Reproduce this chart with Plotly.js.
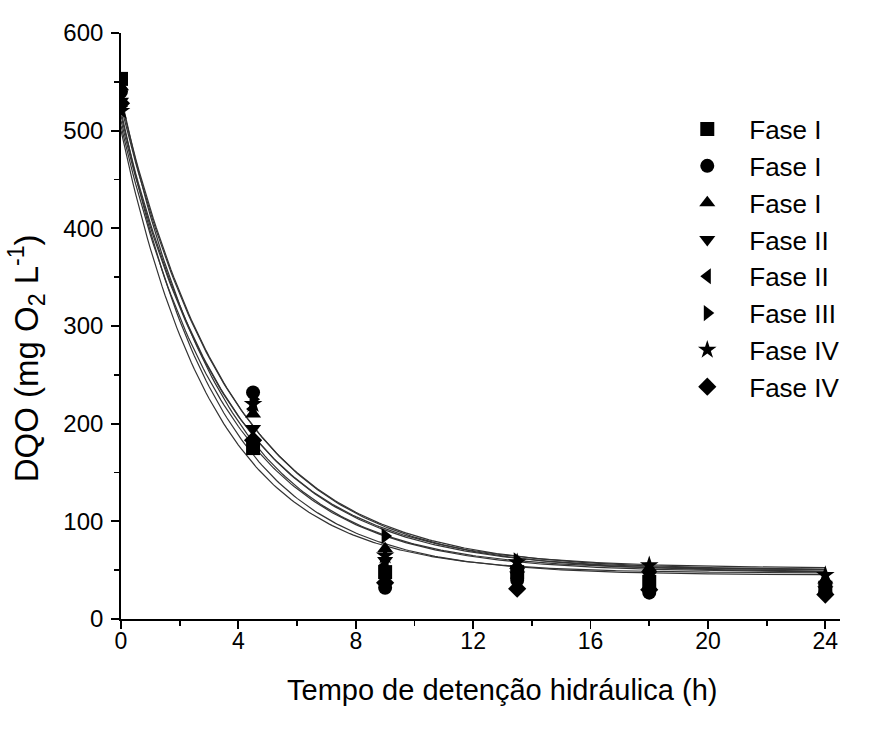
<!DOCTYPE html>
<html>
<head>
<meta charset="utf-8">
<script src="https://cdn.plot.ly/plotly-3.0.1.min.js"></script>
<style>html,body{margin:0;padding:0;background:#fff;}</style>
</head>
<body>
<div id="chart" style="width:870px;height:732px;"></div>
<script>
// Sampling times (h)
const times = [0, 4.5, 9, 13.5, 18, 24];

// Series names and symbols
const seriesNames = ["Fase I", "Fase I", "Fase I", "Fase II", "Fase II", "Fase III", "Fase IV", "Fase IV"];
const seriesSymbols = ["square", "circle", "triangle-up", "triangle-down", "triangle-left", "triangle-right", "star", "diamond"];

// Observed DQO values (mg O2 L-1)
const faseI_a   = [553, 175, 48, 48, 38, 32];
const faseI_b   = [540, 232, 32, 40, 27, 27];
const faseI_c   = [545, 210, 72, 55, 52, 40];
const faseII_a  = [530, 195, 60, 45, 45, 30];
const faseII_b  = [535, 215, 55, 52, 48, 35];
const faseIII   = [525, 225, 85, 60, 50, 38];
const faseIV_a  = [520, 220, 65, 58, 55, 45];
const faseIV_b  = [528, 183, 37, 31, 30, 25];
const observed = [faseI_a, faseI_b, faseI_c, faseII_a, faseII_b, faseIII, faseIV_a, faseIV_b];

// First-order decay fit parameters: C = Cinf + (C0 - Cinf) * exp(-k t)
const fitC0   = [520, 530, 515, 505, 525, 510, 535, 500];
const fitCinf = [45, 48, 50, 48, 50, 52, 50, 47];
const fitK    = [0.30, 0.26, 0.27, 0.28, 0.26, 0.27, 0.29, 0.31];

// Axis ticks and titles
const xTicks = [0, 4, 8, 12, 16, 20, 24];
const yTicks = [0, 100, 200, 300, 400, 500, 600];
const xTitle = "Tempo de detenção hidráulica (h)";
const yTitle = "DQO (mg O<sub>2</sub> L<sup>-1</sup>)";

const traces = [];
const fitT = [];
for (let t = 0; t <= 24.0001; t += 0.1) fitT.push(+t.toFixed(2));
for (let i = 0; i < observed.length; i++) {
  traces.push({
    x: fitT,
    y: fitT.map(t => fitCinf[i] + (fitC0[i] - fitCinf[i]) * Math.exp(-fitK[i] * t)),
    mode: "lines",
    line: {color: "#333", width: 1.2},
    showlegend: false,
    hoverinfo: "skip"
  });
}
for (let i = 0; i < observed.length; i++) {
  traces.push({
    x: times,
    y: observed[i],
    mode: "markers",
    name: seriesNames[i],
    marker: {symbol: seriesSymbols[i], color: "#000", size: 14, line: {width: 0}}
  });
}

const FONT = "Liberation Sans, Arial, sans-serif";
const layout = {
  width: 870, height: 732,
  margin: {l: 121, r: 30, t: 33, b: 113},
  paper_bgcolor: "#fff", plot_bgcolor: "#fff",
  font: {family: FONT, color: "#000"},
  showlegend: true,
  legend: {
    x: 0.757, y: 0.876, xanchor: "left", yanchor: "top",
    font: {size: 26, family: FONT},
    bgcolor: "rgba(0,0,0,0)", borderwidth: 0,
    itemwidth: 74
  },
  xaxis: {
    range: [0, 24.5],
    tickvals: xTicks, ticktext: xTicks.map(String),
    ticks: "outside", ticklen: 8, tickwidth: 1.8, tickcolor: "#000",
    minor: {tickvals: [2, 6, 10, 14, 18, 22], ticks: "outside", ticklen: 5, tickwidth: 1.8, tickcolor: "#000"},
    showline: true, linecolor: "#000", linewidth: 1.8,
    showgrid: false, zeroline: false,
    tickfont: {size: 23, family: FONT},
    ticklabelstandoff: -7
  },
  yaxis: {
    range: [0, 600],
    tickvals: yTicks, ticktext: yTicks.map(String),
    ticks: "outside", ticklen: 8, tickwidth: 1.8, tickcolor: "#000",
    minor: {tickvals: [50, 150, 250, 350, 450, 550], ticks: "outside", ticklen: 5, tickwidth: 1.8, tickcolor: "#000"},
    showline: true, linecolor: "#000", linewidth: 1.8,
    showgrid: false, zeroline: false,
    tickfont: {size: 24},
    ticklabelstandoff: 3
  },
  annotations: [{
    text: yTitle, xref: "paper", yref: "paper",
    x: -0.132, y: 0.445, xanchor: "center", yanchor: "middle",
    textangle: -90, showarrow: false,
    font: {size: 33, family: FONT, color: "#000"}
  }, {
    text: xTitle, xref: "paper", yref: "paper",
    x: 0.530, y: -0.121, xanchor: "center", yanchor: "middle",
    showarrow: false,
    font: {size: 29, family: FONT, color: "#000"}
  }]
};

Plotly.newPlot("chart", traces, layout, {displayModeBar: false, staticPlot: true});
</script>
</body>
</html>
